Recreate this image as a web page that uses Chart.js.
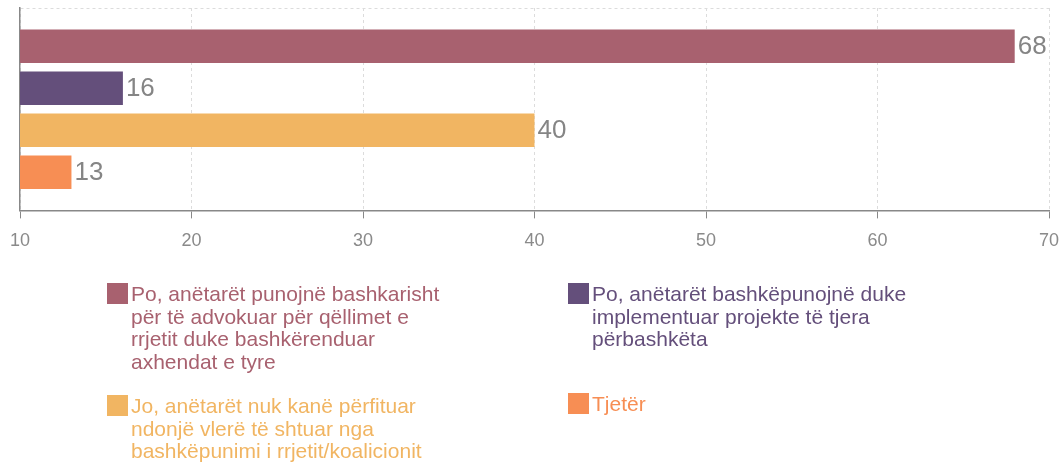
<!DOCTYPE html>
<html>
<head>
<meta charset="utf-8">
<script src="https://cdn.jsdelivr.net/npm/chart.js@4.4.0/dist/chart.umd.min.js"></script>
<style>
  html, body { margin: 0; padding: 0; background: #fff; }
  #wrap { position: relative; width: 1063px; height: 464px; }
  #chart { position: absolute; left: 0; top: 0; }
  .legend-item { position: absolute; width: 380px; font-family: "Liberation Sans", Arial, sans-serif;
                 font-size: 21px; line-height: 22.7px; }
  .legend-item .box { position: absolute; left: 0; top: 0; width: 21px; height: 21px; }
  .legend-item .txt { position: absolute; left: 24px; top: 0; white-space: nowrap; }
</style>
</head>
<body>
<div id="wrap">
  <canvas id="chart" width="1063" height="464"></canvas>
  <div id="legend"></div>
</div>
<script>
// series labels (legend lines) and values
const seriesLabels = [
    ['Po, anëtarët punojnë bashkarisht', 'për të advokuar për qëllimet e', 'rrjetit duke bashkërenduar', 'axhendat e tyre'],
    ['Po, anëtarët bashkëpunojnë duke', 'implementuar projekte të tjera', 'përbashkëta'],
    ['Jo, anëtarët nuk kanë përfituar', 'ndonjë vlerë të shtuar nga', 'bashkëpunimi i rrjetit/koalicionit'],
    ['Tjetër']
];
const seriesValues = [68, 16, 40, 13];
const seriesColors = ['#A8616F', '#644F7B', '#F1B562', '#F78E54'];
const xTicks = [10, 20, 30, 40, 50, 60, 70];

// where each legend entry sits (two columns)
const legendPos = [
    { left: 107, top: 283 },
    { left: 568, top: 283 },
    { left: 107, top: 395 },
    { left: 568, top: 393 }
];

const valueLabels = {
    id: 'valueLabels',
    afterDatasetsDraw(chart) {
        const ctx = chart.ctx;
        ctx.save();
        ctx.font = '26px "Liberation Sans", Arial, sans-serif';
        ctx.fillStyle = '#858585';
        ctx.textBaseline = 'middle';
        ctx.textAlign = 'left';
        chart.data.datasets.forEach((ds, i) => {
            const meta = chart.getDatasetMeta(i);
            meta.data.forEach((bar, j) => {
                ctx.fillText(String(ds.data[j]), bar.x + 3, bar.y + 1);
            });
        });
        ctx.restore();
    }
};

const ctx = document.getElementById('chart').getContext('2d');
const chart = new Chart(ctx, {
    type: 'bar',
    data: {
        labels: [''],
        datasets: seriesValues.map((v, i) => ({
            label: seriesLabels[i].join(' '),
            data: [v],
            backgroundColor: seriesColors[i],
            borderWidth: 0,
            categoryPercentage: 0.83,
            barPercentage: 0.8
        }))
    },
    options: {
        indexAxis: 'y',
        responsive: false,
        animation: false,
        layout: {
            padding: { left: 20, right: 14, top: 8, bottom: 200 }
        },
        plugins: {
            legend: { display: false },
            tooltip: { enabled: false }
        },
        scales: {
            x: {
                min: xTicks[0],
                max: xTicks[xTicks.length - 1],
                afterBuildTicks: (scale) => {
                    scale.ticks = xTicks.map(v => ({ value: v }));
                },
                afterFit: (scale) => {
                    // let the end labels hang over the padding
                    scale.paddingLeft = 0;
                    scale.paddingRight = 0;
                },
                grid: {
                    color: '#dcdcdc',
                    tickLength: 8,
                    tickColor: '#888',
                    tickBorderDash: []
                },
                border: { display: true, color: '#888', width: 1.5, dash: [3, 3] },
                ticks: {
                    color: '#8a8a8a',
                    padding: 12,
                    font: { family: '"Liberation Sans", Arial, sans-serif', size: 18 }
                }
            },
            y: {
                grid: {
                    color: '#dcdcdc',
                    drawTicks: false
                },
                border: { display: true, color: '#888', width: 1.5, dash: [3, 3] },
                ticks: { display: false }
            }
        }
    },
    plugins: [valueLabels]
});

// HTML legend built from the chart's datasets
const legendEl = document.getElementById('legend');
chart.data.datasets.forEach((ds, i) => {
    const item = document.createElement('div');
    item.className = 'legend-item';
    item.style.left = legendPos[i].left + 'px';
    item.style.top = legendPos[i].top + 'px';
    const box = document.createElement('div');
    box.className = 'box';
    box.style.background = seriesColors[i];
    const txt = document.createElement('div');
    txt.className = 'txt';
    txt.style.color = seriesColors[i];
    txt.innerHTML = seriesLabels[i].map(s => s.replace(/&/g, '&amp;').replace(/</g, '&lt;')).join('<br>');
    item.appendChild(box);
    item.appendChild(txt);
    legendEl.appendChild(item);
});
</script>
</body>
</html>
